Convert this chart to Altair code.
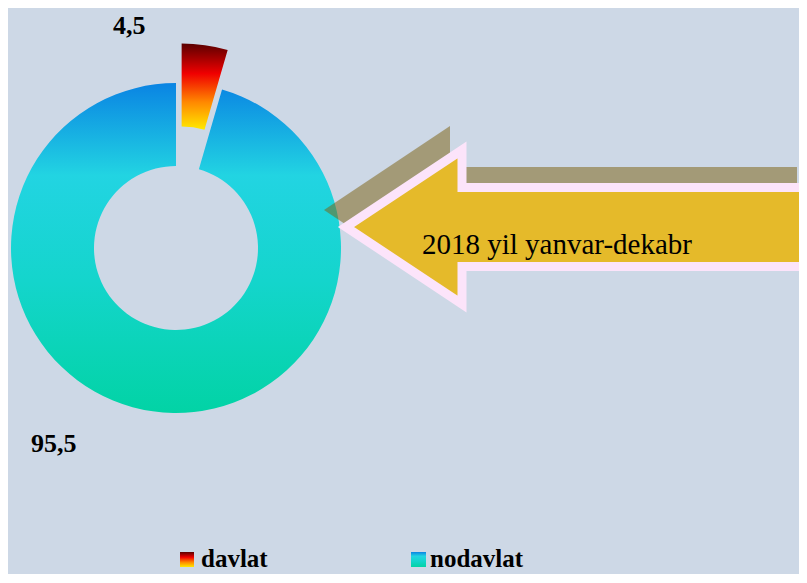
import math
import altair as alt
import pandas as pd

# ---- data ----
categories = ["davlat", "nodavlat"]
values = [4.5, 95.5]
value_labels = ["4,5", "95,5"]
arrow_text = "2018 yil yanvar-dekabr"

df = pd.DataFrame({"category": categories, "value": values, "label": value_labels})
df["end"] = df["value"].cumsum()
df["start"] = df["end"] - df["value"]

BG = "#CDD8E6"
OX, OY = 8, 8  # page margin offset

grad_davlat = alt.LinearGradient(
    gradient="linear", x1=0, x2=0, y1=0, y2=1,
    stops=[alt.GradientStop(offset=0, color="#5A0000"),
           alt.GradientStop(offset=0.35, color="#F00000"),
           alt.GradientStop(offset=0.68, color="#FF8800"),
           alt.GradientStop(offset=1, color="#FFEA00")])
grad_nodavlat = alt.LinearGradient(
    gradient="linear", x1=0, x2=0, y1=0, y2=1,
    stops=[alt.GradientStop(offset=0, color="#0A84E3"),
           alt.GradientStop(offset=0.28, color="#22D4E2"),
           alt.GradientStop(offset=0.6, color="#14D5CC"),
           alt.GradientStop(offset=1, color="#02D3A5")])

theta_scale = alt.Scale(domain=[0, 100], range=[0, 2 * math.pi])
CX, CY = 176 - OX, 248 - OY
R_OUT, R_IN = 165, 82

base = alt.Chart(df)

arc_nod = base.transform_filter(alt.datum.category == "nodavlat").mark_arc(
    radius=R_OUT, radius2=R_IN, color=grad_nodavlat, strokeWidth=0
).encode(
    theta=alt.Theta("start:Q", scale=theta_scale),
    theta2="end:Q",
    x=alt.value(CX), y=alt.value(CY),
)

# exploded slice: offset along its mid angle
mid = (values[0] / 2) / 100 * 2 * math.pi
EXP = 40
arc_dav = base.transform_filter(alt.datum.category == "davlat").mark_arc(
    radius=R_OUT, radius2=R_IN, color=grad_davlat, strokeWidth=0
).encode(
    theta=alt.Theta("start:Q", scale=theta_scale),
    theta2="end:Q",
    x=alt.value(CX + EXP * math.sin(mid)), y=alt.value(CY - EXP * math.cos(mid)),
)

# value labels
lab_dav = base.transform_filter(alt.datum.category == "davlat").mark_text(
    font="Liberation Serif", fontWeight="bold", fontSize=26, align="left",
    baseline="alphabetic", color="black"
).encode(text="label:N", x=alt.value(113 - OX), y=alt.value(34 - OY))
lab_nod = base.transform_filter(alt.datum.category == "nodavlat").mark_text(
    font="Liberation Serif", fontWeight="bold", fontSize=26, align="left",
    baseline="alphabetic", color="black"
).encode(text="label:N", x=alt.value(31 - OX), y=alt.value(452 - OY))

# arrow callout (shadow + arrow) drawn as custom symbol shapes (1 unit = 100 px)
one = pd.DataFrame({"text": [arrow_text]})
shadow_path = "M -2.36 0 L -1.10 -0.84 L -1.10 -0.43 L 2.37 -0.43 L 2.37 0.43 L -1.10 0.43 L -1.10 0.84 Z"
arrow_path = "M -2.29 0 L -1.13 -0.77 L -1.13 -0.395 L 2.345 -0.395 L 2.345 0.395 L -1.13 0.395 L -1.13 0.77 Z"

shadow = alt.Chart(one).mark_point(
    shape=shadow_path, size=40000, filled=True, fill="#7C6212", opacity=0.52, strokeWidth=0
).encode(x=alt.value(560 - OX), y=alt.value(210 - OY))

arrow = alt.Chart(one).mark_point(
    shape=arrow_path, size=40000, filled=True, fill="#E5BA2A", stroke="#FCE4FA",
    strokeWidth=9, opacity=1, fillOpacity=1, strokeOpacity=1
).encode(x=alt.value(575 - OX), y=alt.value(227 - OY))

arrow_label = alt.Chart(one).mark_text(
    font="Liberation Serif", fontSize=29, align="left", baseline="alphabetic", color="black"
).encode(text="text:N", x=alt.value(422 - OX), y=alt.value(254 - OY))

# custom legend with gradient swatches (raised slightly so it is not cut off)
LEG_BASE = 567
sw_dav = alt.Chart(one).mark_rect(color=grad_davlat).encode(
    x=alt.value(180 - OX), x2=alt.value(194 - OX),
    y=alt.value(LEG_BASE - 15 - OY), y2=alt.value(LEG_BASE - OY))
sw_nod = alt.Chart(one).mark_rect(color=grad_nodavlat).encode(
    x=alt.value(411 - OX), x2=alt.value(426 - OX),
    y=alt.value(LEG_BASE - 15 - OY), y2=alt.value(LEG_BASE - OY))
leg_dav = base.transform_filter(alt.datum.category == "davlat").mark_text(
    font="Liberation Serif", fontWeight="bold", fontSize=25, align="left",
    baseline="alphabetic", color="black"
).encode(text="category:N", x=alt.value(201 - OX), y=alt.value(LEG_BASE - OY))
leg_nod = base.transform_filter(alt.datum.category == "nodavlat").mark_text(
    font="Liberation Serif", fontWeight="bold", fontSize=25, align="left",
    baseline="alphabetic", color="black"
).encode(text="category:N", x=alt.value(430 - OX), y=alt.value(LEG_BASE - OY))

chart = alt.layer(
    arc_nod, arc_dav, shadow, arrow, arrow_label, lab_dav, lab_nod,
    sw_dav, sw_nod, leg_dav, leg_nod
).properties(
    width=791, height=566, padding=0, autosize="none", background=BG
).configure_view(stroke=None)

chart.save("out.html", embed_options={"renderer": "svg", "actions": False})
